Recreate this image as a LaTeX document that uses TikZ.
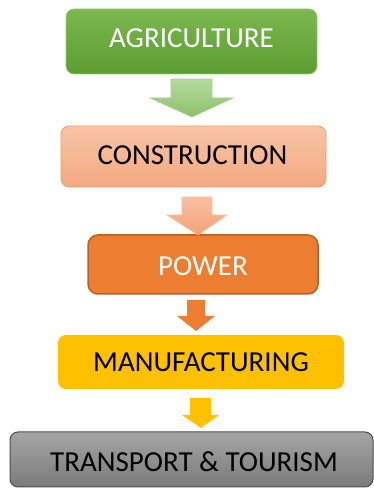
\documentclass[tikz,border=0pt]{standalone}
\usepackage{fontspec}
\setmainfont{Carlito}
\usetikzlibrary{calc}
\definecolor{gTop}{HTML}{7CB84F}
\definecolor{gBot}{HTML}{5B9C30}
\definecolor{gLine}{HTML}{9BCB7A}
\definecolor{gaTop}{HTML}{B6D9A1}
\definecolor{gaBot}{HTML}{8BC168}
\definecolor{gaLine}{HTML}{A5D08A}
\definecolor{sTop}{HTML}{F8C4A6}
\definecolor{sBot}{HTML}{F4A97F}
\definecolor{sLine}{HTML}{F19C6B}
\definecolor{saTop}{HTML}{F8C0A2}
\definecolor{saBot}{HTML}{F4A176}
\definecolor{oFill}{HTML}{ED7D31}
\definecolor{oLine}{HTML}{B65F26}
\definecolor{yFill}{HTML}{FFC000}
\definecolor{kTop}{HTML}{A5A5A5}
\definecolor{kBot}{HTML}{7A7A7A}
\definecolor{kLine}{HTML}{4D4D4D}
\tikzset{
  box/.style={rectangle, rounded corners=8pt, inner sep=0pt},
  lbl/.style={font=\fontsize{29}{34}\selectfont, inner sep=0pt, text height=18.3pt, text depth=0pt},
}
\begin{document}
\begin{tikzpicture}[x=1pt,y=1pt]
\useasboundingbox (0,0) rectangle (374,488);
% boxes
\node[box, minimum width=251pt, minimum height=65pt, top color=gTop, bottom color=gBot, draw=gLine, line width=0.8pt] (agri) at (191.5,446.5) {};
\node[box, minimum width=265pt, minimum height=61pt, top color=sTop, bottom color=sBot, draw=sLine, line width=0.8pt] (cons) at (193.5,331.5) {};
\node[box, rounded corners=10pt, minimum width=230pt, minimum height=59pt, fill=oFill, draw=oLine, line width=1.5pt] (power) at (203,223.5) {};
\node[box, minimum width=286pt, minimum height=54pt, fill=yFill] (manu) at (201,126) {};
\node[box, minimum width=363pt, minimum height=55pt, top color=kTop, bottom color=kBot, draw=kLine, line width=1pt] (trans) at (191.5,28.5) {};
% labels
\node[lbl, text=white] (tagri) at ($(agri.center)+(0,3)$) {AGRICULTURE};
\node[lbl, text=black] (tcons) at ($(cons.center)+(-1,1)$) {CONSTRUCTION};
\node[lbl, text=white] (tpower) at ($(power.center)+(0,-1.5)$) {POWER};
\node[lbl, text=black] (tmanu) at ($(manu.center)+(0,-0.5)$) {MANUFACTURING};
\node[lbl, text=black] (ttrans) at ($(trans.center)+(2.5,-3)$) {TRANSPORT \& TOURISM};
% block arrows
\draw[gaLine, line width=0.6pt, top color=gaTop, bottom color=gaBot]
  (171,409) -- (212,409) -- (212,390) -- (233,390) -- (192,371) -- (150,390) -- (171,390) -- cycle;
\draw[saTop, line width=0.6pt, top color=saTop, bottom color=saBot]
  (182,291) -- (212,291) -- (212,273) -- (227,273) -- (198,253) -- (167,273) -- (182,273) -- cycle;
\fill[oFill]
  (187,188) -- (205,188) -- (205,172) -- (215,172) -- (196,157) -- (177,172) -- (187,172) -- cycle;
\fill[yFill]
  (190,90) -- (211,90) -- (211,73) -- (219,73) -- (201,60) -- (182,73) -- (190,73) -- cycle;
\end{tikzpicture}
\end{document}
